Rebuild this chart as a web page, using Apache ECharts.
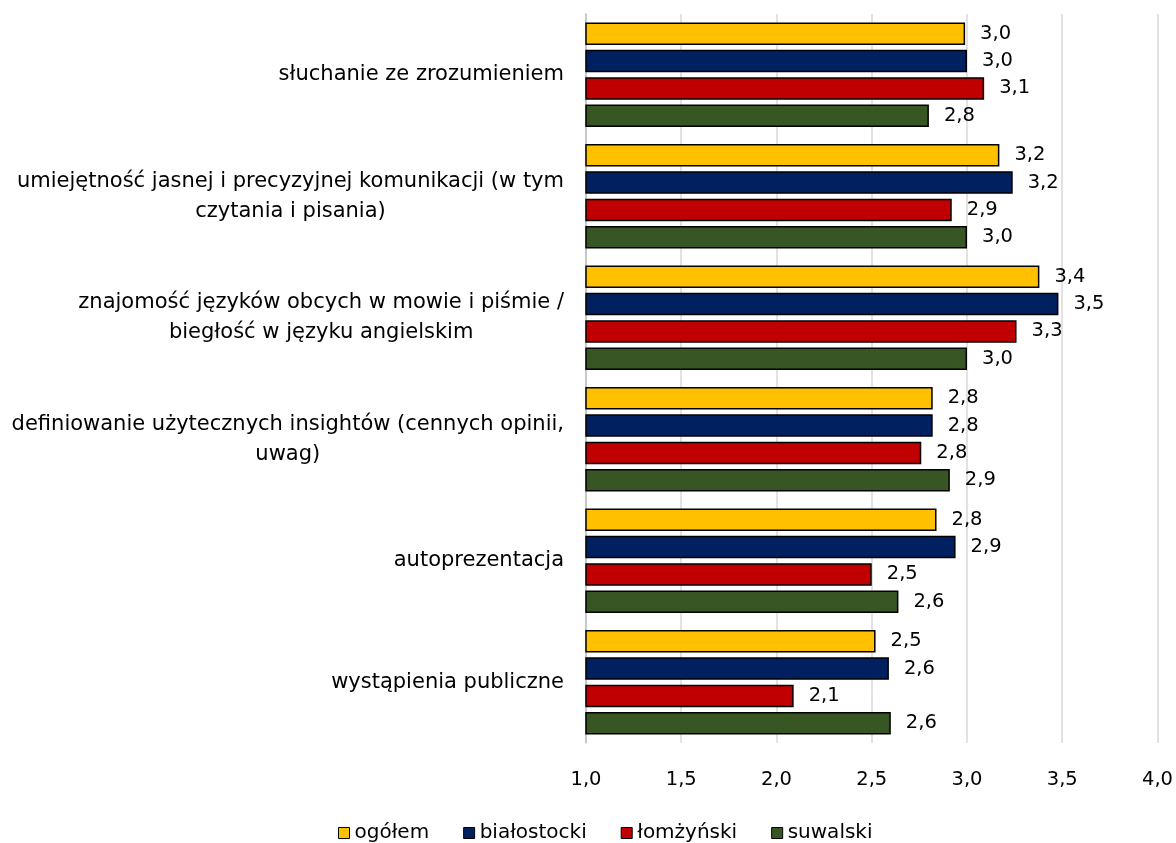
<!DOCTYPE html>
<html>
<head>
<meta charset="utf-8">
<script src="https://cdn.jsdelivr.net/npm/echarts@6/dist/echarts.min.js"></script>
<style>
  html, body { margin: 0; padding: 0; background: #fff; }
  #chart { width: 1176px; height: 843px; }
</style>
</head>
<body>
<div id="chart"></div>
<script>
var categories = [
  'słuchanie ze zrozumieniem',
  'umiejętność jasnej i precyzyjnej komunikacji (w tym\nczytania i pisania)',
  'znajomość języków obcych w mowie i piśmie /\nbiegłość w języku angielskim',
  'definiowanie użytecznych insightów (cennych opinii,\nuwag)',
  'autoprezentacja',
  'wystąpienia publiczne'
];
var seriesNames = ['ogółem', 'białostocki', 'łomżyński', 'suwalski'];
var ogolem = [2.99, 3.17, 3.38, 2.82, 2.84, 2.52];
var bialostocki = [3.00, 3.24, 3.48, 2.82, 2.94, 2.59];
var lomzynski = [3.09, 2.92, 3.26, 2.76, 2.50, 2.09];
var suwalski = [2.80, 3.00, 3.00, 2.91, 2.64, 2.60];
var colors = ['#FFC000', '#002060', '#C00000', '#375623'];

var font = "'DejaVu Sans', 'Noto Sans', sans-serif";
var comma = function (v) { return v.toFixed(1).replace('.', ','); };

var chart = echarts.init(document.getElementById('chart'));

function makeSeries(name, data, color) {
  return {
    name: name,
    type: 'bar',
    data: data,
    barGap: '22%',
    barCategoryGap: '14%',
    itemStyle: { color: color, borderColor: '#000', borderWidth: 1.5 },
    label: {
      show: true,
      position: 'right',
      distance: 15,
      color: '#000',
      fontFamily: font,
      fontSize: 19.5,
      formatter: function (p) { return comma(p.value); }
    }
  };
}

chart.setOption({
  backgroundColor: '#fff',
  animation: false,
  grid: { left: 586, right: 18, top: 14, bottom: 100 },
  legend: {
    top: 818,
    left: 333,
    icon: 'rect',
    itemWidth: 11,
    itemHeight: 11,
    itemGap: 34,
    textStyle: { fontFamily: font, fontSize: 20, color: '#000' },
    itemStyle: { borderColor: '#000', borderWidth: 1 },
    data: seriesNames
  },
  xAxis: {
    type: 'value',
    min: 1,
    max: 4,
    interval: 0.5,
    axisLine: { show: false },
    axisTick: { show: false },
    splitLine: { lineStyle: { color: '#d9d9d9', width: 1.5 } },
    axisLabel: {
      margin: 27,
      color: '#000',
      fontFamily: font,
      fontSize: 19.5,
      formatter: function (v) { return comma(v); }
    }
  },
  yAxis: {
    type: 'category',
    inverse: true,
    data: categories,
    axisLine: { lineStyle: { color: '#bfbfbf', width: 1.5 } },
    axisTick: { show: false },
    axisLabel: {
      margin: 22,
      color: '#000',
      fontFamily: font,
      fontSize: 21,
      lineHeight: 30,
      formatter: function (v) {
        return v.split('\n').map(function (l) { return '{c|' + l + '}'; }).join('\n');
      },
      rich: {
        c: { align: 'center', fontFamily: font, fontSize: 21, lineHeight: 30, color: '#000' }
      }
    }
  },
  series: [
    makeSeries(seriesNames[0], ogolem, colors[0]),
    makeSeries(seriesNames[1], bialostocki, colors[1]),
    makeSeries(seriesNames[2], lomzynski, colors[2]),
    makeSeries(seriesNames[3], suwalski, colors[3])
  ]
});
</script>
</body>
</html>
